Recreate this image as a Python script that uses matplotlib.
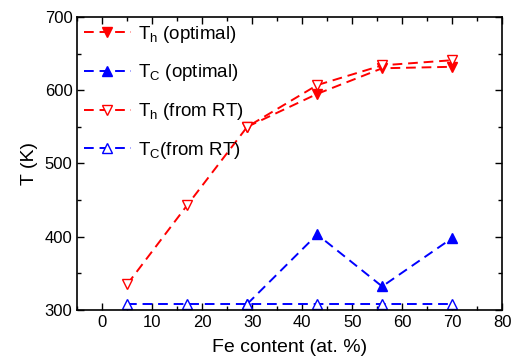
import matplotlib.pyplot as plt
from matplotlib.ticker import MultipleLocator

plt.rcParams['font.family'] = ['Liberation Sans', 'DejaVu Sans']
plt.rcParams['mathtext.fontset'] = 'custom'
plt.rcParams['mathtext.rm'] = 'Liberation Sans'
plt.rcParams['mathtext.it'] = 'Liberation Sans'

# Fe content (at. %)
x_rt = [5, 17, 29, 43, 56, 70]
x_opt = [29, 43, 56, 70]

th_opt = [550, 595, 630, 632]
tc_opt = [308, 403, 332, 398]
th_rt = [335, 443, 550, 607, 634, 641]
tc_rt = [308, 308, 308, 308, 308, 308]

fig = plt.figure(figsize=(5.15, 3.62), dpi=100)
ax = fig.add_axes([0.15, 0.144, 0.825, 0.809])

dash = (5, 3)
ax.plot(x_opt, th_opt, color='red', ls='--', dashes=dash, lw=1.4,
        marker='v', ms=7, mfc='red', mec='red', label='T$_\\mathregular{h}$ (optimal)')
ax.plot(x_opt, tc_opt, color='blue', ls='--', dashes=dash, lw=1.4,
        marker='^', ms=7, mfc='blue', mec='blue', label='T$_\\mathregular{C}$ (optimal)')
ax.plot(x_rt, th_rt, color='red', ls='--', dashes=dash, lw=1.4,
        marker='v', ms=7, mfc='white', mec='red', label='T$_\\mathregular{h}$ (from RT)')
ax.plot(x_rt, tc_rt, color='blue', ls='--', dashes=dash, lw=1.4,
        marker='^', ms=7, mfc='white', mec='blue', label='T$_\\mathregular{C}$(from RT)')

ax.set_xlim(-5, 80)
ax.set_ylim(300, 700)
ax.xaxis.set_major_locator(MultipleLocator(10))
ax.xaxis.set_minor_locator(MultipleLocator(5))
ax.yaxis.set_major_locator(MultipleLocator(100))
ax.yaxis.set_minor_locator(MultipleLocator(50))
ax.tick_params(which='both', direction='in', top=True, right=True, labelsize=12)
ax.tick_params(which='major', length=5, width=1)
ax.tick_params(which='minor', length=3, width=1)
for s in ax.spines.values():
    s.set_linewidth(1.2)

ax.set_xlabel('Fe content (at. %)', fontsize=14, labelpad=7)
ax.set_ylabel('T (K)', fontsize=14, labelpad=5)

ax.legend(loc='upper left', frameon=False, fontsize=13.5, handlelength=2.5,
          borderaxespad=0.0, borderpad=0.35, labelspacing=0.95, handletextpad=0.4)

fig.savefig('out.png', dpi=100)
